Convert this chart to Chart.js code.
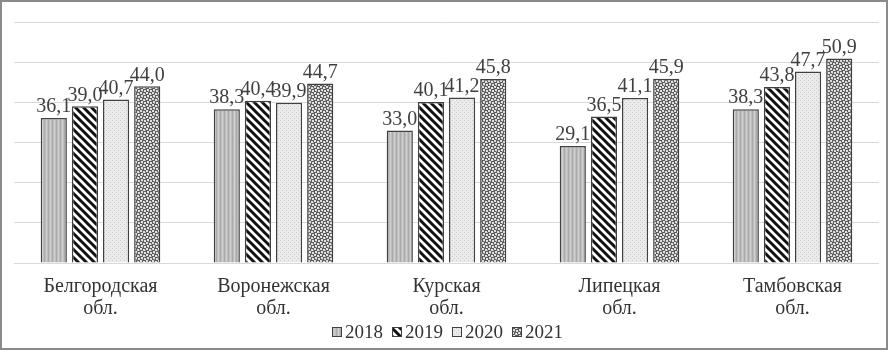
<!DOCTYPE html>
<html>
<head>
<meta charset="utf-8">
<script src="https://cdn.jsdelivr.net/npm/chart.js@4"></script>
<style>
    body { margin: 0; background: #fff; }
    #frame {
        position: absolute; left: 0; top: 0;
        width: 888px; height: 350px;
        box-sizing: border-box;
        border: 2px solid #8a8a8a;
        background: #fff;
    }
    #chart { display: block; }
</style>
</head>
<body>
<div id="frame"><canvas id="chart" width="884" height="346"></canvas></div>
<script>
const regions = [
    ['Белгородская', 'обл.'],
    ['Воронежская', 'обл.'],
    ['Курская', 'обл.'],
    ['Липецкая', 'обл.'],
    ['Тамбовская', 'обл.']
];
const years = ['2018', '2019', '2020', '2021'];
const values2018 = [36.1, 38.3, 33.0, 29.1, 38.3];
const values2019 = [39.0, 40.4, 40.1, 36.5, 43.8];
const values2020 = [40.7, 39.9, 41.2, 41.1, 47.7];
const values2021 = [44.0, 44.7, 45.8, 45.9, 50.9];

// small tiles for the hatch / texture fills
function makePattern(size, draw) {
    const c = document.createElement('canvas');
    c.width = size;
    c.height = size;
    const g = c.getContext('2d');
    draw(g, size);
    return g.createPattern(c, 'repeat');
}

const pat2018 = makePattern(4, (g, s) => {
    g.fillStyle = '#bdbdbd';
    g.fillRect(0, 0, s, s);
    g.fillStyle = '#cfcfcf';
    g.fillRect(0, 0, 1, s);
    g.fillStyle = '#ababab';
    g.fillRect(2, 0, 1, s);
});

const pat2019 = makePattern(8, (g, s) => {
    g.fillStyle = '#fff';
    g.fillRect(0, 0, s, s);
    g.strokeStyle = '#111';
    g.lineWidth = 3;
    for (let off = -s; off <= s; off += s) {
        g.beginPath();
        g.moveTo(off - 1, -1);
        g.lineTo(off + s + 1, s + 1);
        g.stroke();
    }
});

const pat2020 = makePattern(4, (g, s) => {
    g.fillStyle = '#ebebeb';
    g.fillRect(0, 0, s, s);
    g.fillStyle = '#c9c9c9';
    g.fillRect(0, 0, 1, 1);
    g.fillRect(2, 2, 1, 1);
});

const pat2021 = makePattern(6, (g, s) => {
    g.fillStyle = '#5e5e5e';
    g.fillRect(0, 0, s, s);
    g.fillStyle = '#e0e0e0';
    g.fillRect(0, 0, 2, 2);
    g.fillRect(3, 1, 2, 2);
    g.fillRect(1, 3, 2, 2);
    g.fillRect(4, 4, 2, 2);
    g.fillStyle = '#a0a0a0';
    g.fillRect(5, 2, 1, 1);
    g.fillRect(2, 5, 1, 1);
});

const serif = "'Liberation Serif', 'DejaVu Serif', serif";

// value labels over the bars, with a comma as decimal mark
const barLabels = {
    id: 'barLabels',
    afterDatasetsDraw(chart) {
        const ctx = chart.ctx;
        ctx.save();
        ctx.font = '20px ' + serif;
        ctx.fillStyle = '#404040';
        ctx.textAlign = 'center';
        ctx.textBaseline = 'bottom';
        chart.data.datasets.forEach((ds, i) => {
            chart.getDatasetMeta(i).data.forEach((bar, j) => {
                const txt = ds.data[j].toFixed(1).replace('.', ',');
                ctx.fillText(txt, bar.x, bar.y - 1);
            });
        });
        ctx.restore();
    }
};

// legend drawn by hand: small boxes sitting close to the year text
const smallLegend = {
    id: 'smallLegend',
    afterDraw(chart) {
        const ctx = chart.ctx;
        const y = 330;
        ctx.save();
        ctx.font = '19px ' + serif;
        ctx.textBaseline = 'middle';
        const items = chart.data.datasets.map(ds => ({ ds, w: 10 + 3 + ctx.measureText(ds.label).width }));
        const gap = 9;
        const total = items.reduce((s, it) => s + it.w, 0) + gap * (items.length - 1);
        let x = 445.5 - total / 2;
        items.forEach(it => {
            ctx.fillStyle = it.ds.backgroundColor;
            ctx.fillRect(x, y - 5, 10, 10);
            ctx.strokeStyle = '#404040';
            ctx.lineWidth = 1;
            ctx.strokeRect(x + 0.5, y - 4.5, 9, 9);
            ctx.fillStyle = '#333';
            ctx.fillText(it.ds.label, x + 13, y + 1);
            x += it.w + gap;
        });
        ctx.restore();
    }
};

const datasets = [
    { label: years[0], data: values2018, backgroundColor: pat2018 },
    { label: years[1], data: values2019, backgroundColor: pat2019 },
    { label: years[2], data: values2020, backgroundColor: pat2020 },
    { label: years[3], data: values2021, backgroundColor: pat2021 }
].map(d => Object.assign(d, {
    borderColor: '#404040',
    borderWidth: 1.5,
    categoryPercentage: 0.72,
    barPercentage: 0.84
}));

new Chart(document.getElementById('chart').getContext('2d'), {
    type: 'bar',
    data: { labels: regions, datasets: datasets },
    options: {
        responsive: false,
        animation: false,
        layout: { padding: { left: 12, right: 7, top: 20, bottom: 15 } },
        plugins: {
            tooltip: { enabled: false },
            legend: { display: false }
        },
        scales: {
            x: {
                grid: { display: false, drawTicks: false },
                border: { display: false },
                ticks: {
                    color: '#333',
                    padding: 13,
                    font: { family: serif, size: 20, lineHeight: 1.1 },
                    maxRotation: 0
                }
            },
            y: {
                min: 0,
                max: 60,
                ticks: { display: false, stepSize: 10 },
                grid: { color: '#d9d9d9', drawTicks: false },
                border: { display: false }
            }
        }
    },
    plugins: [barLabels, smallLegend]
});
</script>
</body>
</html>
